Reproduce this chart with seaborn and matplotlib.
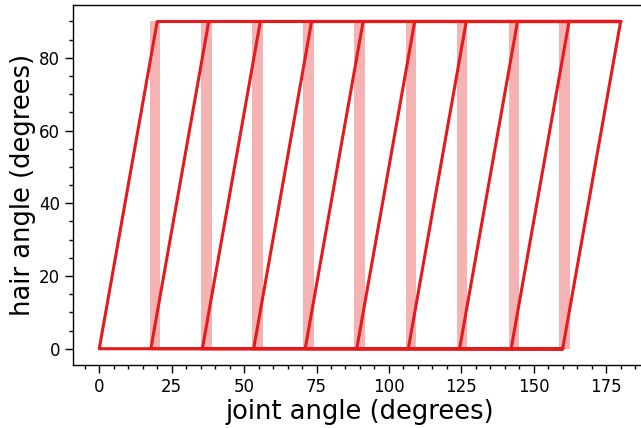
import numpy as np
import pandas as pd
import matplotlib
matplotlib.use("Agg")
import matplotlib.pyplot as plt
from matplotlib.ticker import MultipleLocator
import seaborn as sns

# ---- data ----
joint_start = [0.0, 17.8, 35.6, 53.3, 71.1, 88.9, 106.7, 124.4, 142.2, 160.0]
joint_sweep = 20.0
joint_end = 180.0
hair_low = 0.0
hair_high = 90.0

band_lo = [17.5, 35.1, 52.8, 70.3, 88.0, 105.8, 123.5, 141.4, 158.8]
band_hi = [21.0, 38.8, 56.4, 74.2, 91.9, 109.5, 127.0, 145.0, 162.5]

line_color = "#e41a1c"

# one open path per start angle: bottom run, ramp up, top run
rows = []
for k, x0 in enumerate(joint_start):
    path = [
        (joint_end - joint_sweep, hair_low),
        (x0, hair_low),
        (x0 + joint_sweep, hair_high),
        (joint_end, hair_high),
    ]
    for i, (x, y) in enumerate(path):
        rows.append({"cycle": k, "step": i, "joint": x, "hair": y})
df = pd.DataFrame(rows)

sns.set_style("ticks")
plt.rcParams["text.color"] = "black"
plt.rcParams["axes.labelcolor"] = "black"
plt.rcParams["xtick.color"] = "black"
plt.rcParams["ytick.color"] = "black"

fig = plt.figure(figsize=(6.41, 4.28), dpi=100)
ax = fig.add_axes([0.1142, 0.147, 0.8947, 0.841])

# shaded bands
for lo, hi in zip(band_lo, band_hi):
    ax.bar((lo + hi) / 2, hair_high - hair_low, width=hi - lo, bottom=hair_low,
           color=line_color, alpha=0.33, linewidth=0, zorder=1)

sns.lineplot(data=df, x="joint", y="hair", units="cycle", estimator=None,
             sort=False, color=line_color, linewidth=2.2, ax=ax, zorder=2)

ax.set_xlim(-9, 189)
ax.set_ylim(-4.5, 94.5)

ax.xaxis.set_major_locator(MultipleLocator(25))
ax.xaxis.set_minor_locator(MultipleLocator(5))
ax.yaxis.set_major_locator(MultipleLocator(20))
ax.yaxis.set_minor_locator(MultipleLocator(5))
ax.tick_params(which="major", labelsize=12, length=6, width=1, direction="out",
               color="black", labelcolor="black")
ax.tick_params(which="minor", length=3, width=1, direction="out", color="black")

ax.set_xlabel("joint angle (degrees)", fontsize=18.5, color="black", labelpad=2)
ax.set_ylabel("hair angle (degrees)", fontsize=18.5, color="black", labelpad=2)

for side in ["left", "bottom", "top"]:
    ax.spines[side].set_color("black")
    ax.spines[side].set_linewidth(1)
ax.spines["right"].set_visible(False)

fig.savefig("out.png", dpi=100)
